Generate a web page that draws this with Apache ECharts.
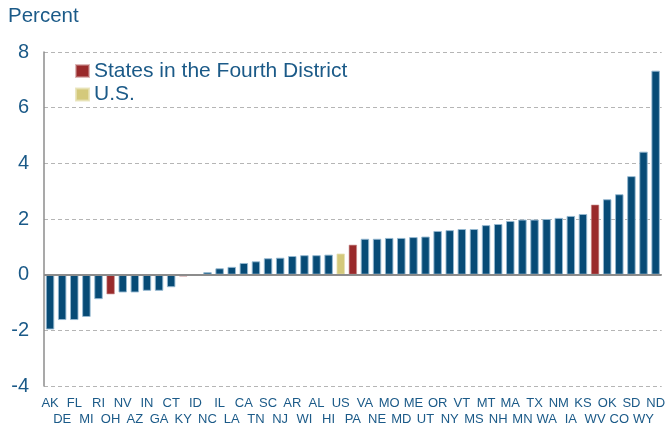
<!DOCTYPE html>
<html>
<head>
<meta charset="utf-8">
<script src="https://cdn.jsdelivr.net/npm/echarts@6/dist/echarts.min.js"></script>
<style>html,body{margin:0;padding:0;background:#fff}#c{width:668px;height:427px}</style>
</head>
<body>
<div id="c"></div>
<script>
var categories = ['AK','DE','FL','MI','RI','OH','NV','AZ','IN','GA','CT','KY','ID','NC','IL','LA','CA','TN','SC','NJ','AR','WI','AL','HI','US','PA','VA','NE','MO','MD','ME','UT','OR','NY','VT','MS','MT','NH','MA','MN','TX','WA','NM','IA','KS','WV','OK','CO','SD','WY','ND'];
var values = [-1.97,-1.63,-1.63,-1.52,-0.88,-0.71,-0.64,-0.64,-0.58,-0.58,-0.45,-0.07,-0.03,0.09,0.23,0.28,0.42,0.48,0.59,0.61,0.67,0.70,0.70,0.72,0.76,1.08,1.29,1.29,1.32,1.32,1.35,1.37,1.57,1.60,1.64,1.64,1.78,1.82,1.93,1.98,1.98,2.00,2.04,2.11,2.18,2.52,2.71,2.89,3.54,4.42,7.33];
var fourthDistrict = ['OH','KY','PA','WV'];
var usLabel = ['US'];
var yTicks = {min: -4, max: 8, interval: 2};

var TXT = '#1b5a88';
var FONT = '"Liberation Sans", Arial, sans-serif';

function pick(pred) {
  return values.map(function (v, i) { return pred(categories[i]) ? v : '-'; });
}
var otherData = pick(function (c) { return fourthDistrict.indexOf(c) < 0 && usLabel.indexOf(c) < 0; });
var fdData = pick(function (c) { return fourthDistrict.indexOf(c) >= 0; });
var usData = pick(function (c) { return usLabel.indexOf(c) >= 0; });

var barCommon = {
  type: 'bar', stack: 'all', barWidth: 8.5,
  emphasis: {disabled: true}
};

var chart = echarts.init(document.getElementById('c'), null, {renderer: 'canvas'});
chart.setOption({
  animation: false,
  textStyle: {fontFamily: FONT},
  title: {
    text: 'Percent', left: 8, top: 6, padding: 0,
    textStyle: {color: TXT, fontSize: 20.5, fontWeight: 'normal', fontFamily: FONT}
  },
  legend: {
    orient: 'vertical', left: 75, top: 60.5, itemGap: 2.5, padding: 0,
    itemWidth: 13, itemHeight: 12, icon: 'rect',
    data: ['States in the Fourth District', 'U.S.'],
    textStyle: {color: TXT, fontSize: 21, fontFamily: FONT, lineHeight: 21}
  },
  grid: {left: 44, right: 4, top: 52, bottom: 41, containLabel: false},
  xAxis: {
    type: 'category', data: categories,
    axisLine: {show: false}, axisTick: {show: false},
    axisLabel: {
      interval: 0, color: TXT, fontSize: 13, fontFamily: FONT, lineHeight: 16, margin: 9,
      formatter: function (v, i) { return i % 2 ? '\n' + v : v; }
    }
  },
  yAxis: {
    type: 'value', min: yTicks.min, max: yTicks.max, interval: yTicks.interval,
    axisLine: {show: true, lineStyle: {color: '#8c8c8c', width: 1.5}},
    axisTick: {show: false},
    axisLabel: {color: TXT, fontSize: 20, fontFamily: FONT, margin: 15},
    splitLine: {show: true, lineStyle: {color: '#b5b5b5', type: [4, 3], width: 1}}
  },
  series: [
    Object.assign({}, barCommon, {
      name: 'Other', data: otherData,
      itemStyle: {color: '#074b76', borderColor: 'rgba(150,185,210,0.9)', borderWidth: 1},
      markLine: {
        silent: true, symbol: 'none', label: {show: false},
        lineStyle: {color: '#8c8c8c', type: 'solid', width: 2},
        data: [{yAxis: 0}]
      }
    }),
    Object.assign({}, barCommon, {
      name: 'States in the Fourth District', data: fdData,
      itemStyle: {color: '#992a2b', borderColor: 'rgba(200,140,140,0.6)', borderWidth: 1}
    }),
    Object.assign({}, barCommon, {
      name: 'U.S.', data: usData,
      itemStyle: {color: '#d4c97b', borderColor: 'rgba(230,225,180,0.8)', borderWidth: 1}
    })
  ]
});
</script>
</body>
</html>
